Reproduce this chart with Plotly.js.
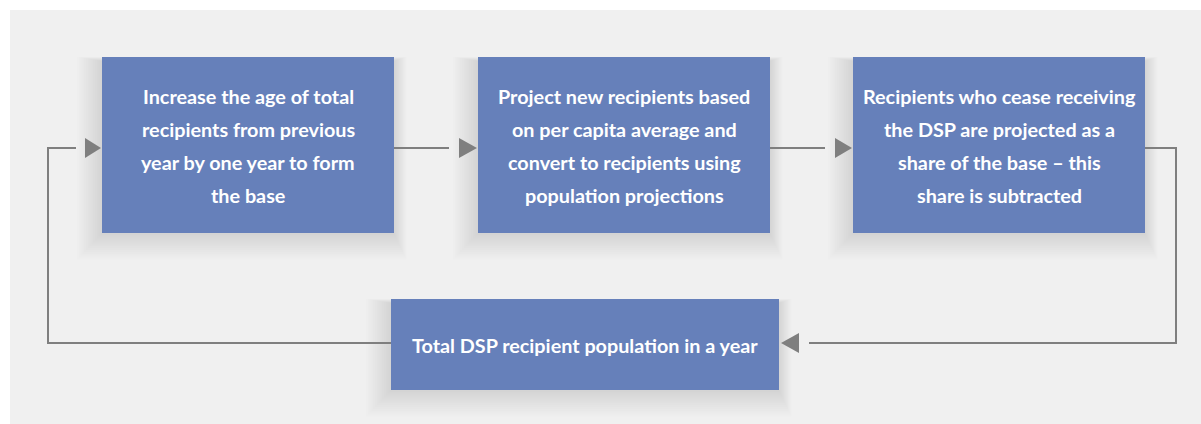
<!DOCTYPE html>
<html>
<head>
<meta charset="utf-8">
<script src="https://cdn.plot.ly/plotly-3.0.1.min.js"></script>
<style>
  html, body { margin: 0; padding: 0; background: #ffffff; }
  #chart { width: 1201px; height: 424px; }
</style>
</head>
<body>
<div id="chart"></div>
<script>
// ---- content (data) ----
var step1Lines = ["Increase the age of total", "recipients from previous", "year by one year to form", "the base"];
var step2Lines = ["Project new recipients based", "on per capita average and", "convert to recipients using", "population projections"];
var step3Lines = ["Recipients who cease receiving", "the DSP are projected as a", "share of the base \u2013 this", "share is subtracted"];
var totalLines = ["Total DSP recipient population in a year"];

// ---- layout geometry (pixel coordinates on a 1201 x 424 canvas) ----
var W = 1201, H = 424;
var boxColor = "#6680BA";
var lineColor = "#7F7F7F";
var panelColor = "#F0F0F0";
var lineH = 33;
var fontSize = 19.8;

var boxes = [
  {x0: 102, x1: 394, y0: 57, y1: 233, lines: step1Lines},
  {x0: 478, x1: 770, y0: 57, y1: 233, lines: step2Lines},
  {x0: 853, x1: 1145, y0: 57, y1: 233, lines: step3Lines},
  {x0: 391, x1: 779, y0: 299, y1: 390, lines: totalLines}
];

var shapes = [];
var annotations = [];

// background panel
shapes.push({type: "rect", xref: "x", yref: "y", x0: 10, x1: W, y0: 10, y1: H,
  fillcolor: panelColor, line: {width: 0}, layer: "below"});

// soft shadows
boxes.forEach(function (b) {
  for (var i = 1; i <= 14; i++) {
    shapes.push({type: "rect", xref: "x", yref: "y",
      x0: b.x0 - i * 1.8, x1: b.x1 + i * 0.9, y0: b.y0 + 4 - i * 0.3, y1: b.y1 + i * 1.9,
      fillcolor: "rgba(0,0,0,0.009)", line: {width: 0}, layer: "below"});
  }
});

// connector lines
function seg(pts) {
  var d = "M" + pts.map(function (p) { return p[0] + "," + p[1]; }).join(" L");
  shapes.push({type: "path", xref: "x", yref: "y", path: d,
    line: {color: lineColor, width: 2}, fillcolor: "rgba(0,0,0,0)"});
}
function tri(xb, xt, yc) {
  shapes.push({type: "path", xref: "x", yref: "y",
    path: "M" + xb + "," + (yc - 10) + " L" + xt + "," + yc + " L" + xb + "," + (yc + 10) + " Z",
    fillcolor: lineColor, line: {width: 0}});
}
var yMid = 148, yLow = 343;
seg([[394, yMid], [449, yMid]]);
tri(459, 477, yMid);
seg([[770, yMid], [825, yMid]]);
tri(835, 852, yMid);
seg([[1145, yMid], [1176, yMid], [1176, yLow], [809, yLow]]);
tri(799, 781, yLow);
seg([[391, yLow], [48, yLow], [48, yMid], [76, yMid]]);
tri(85, 101, yMid);

// boxes + text
boxes.forEach(function (b) {
  shapes.push({type: "rect", xref: "x", yref: "y", x0: b.x0, x1: b.x1, y0: b.y0, y1: b.y1,
    fillcolor: boxColor, line: {width: 0}});
  var cx = (b.x0 + b.x1) / 2, cy = (b.y0 + b.y1) / 2;
  var n = b.lines.length;
  b.lines.forEach(function (t, i) {
    annotations.push({xref: "x", yref: "y", x: cx, y: cy + (i - (n - 1) / 2) * lineH,
      text: "<b>" + t + "</b>", showarrow: false, xanchor: "center", yanchor: "middle",
      font: {family: "Lato, 'Open Sans', sans-serif", size: fontSize, color: "#ffffff"}});
  });
});

var layout = {
  width: W, height: H,
  margin: {l: 0, r: 0, t: 0, b: 0},
  paper_bgcolor: "#ffffff", plot_bgcolor: "#ffffff",
  xaxis: {range: [0, W], visible: false, fixedrange: true},
  yaxis: {range: [H, 0], visible: false, fixedrange: true},
  shapes: shapes, annotations: annotations, showlegend: false
};
Plotly.newPlot("chart", [], layout, {staticPlot: true, displayModeBar: false});
</script>
</body>
</html>
